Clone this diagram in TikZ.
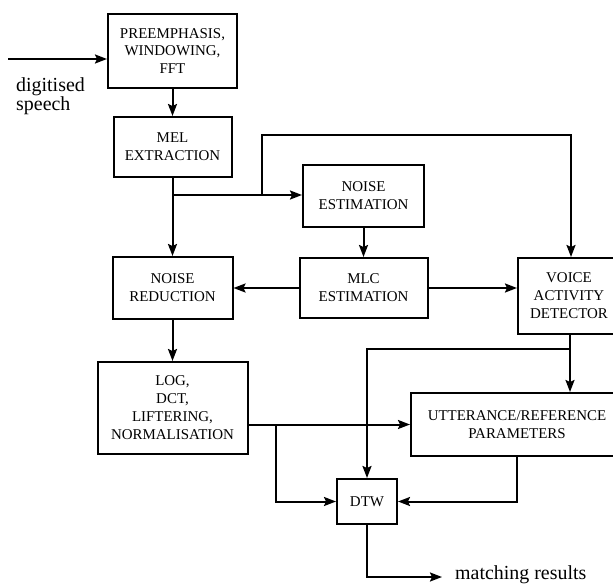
\documentclass[tikz,border=0pt]{standalone}
\usepackage{fontspec}
\setmainfont{Liberation Serif}
\usetikzlibrary{arrows.meta,positioning,calc}
\tikzset{
    block/.style={
        rectangle,
        draw=black,
        line width=2bp,
        align=center,
        inner sep=0pt,
        font=\fontsize{15}{18}\selectfont,
    },
    lbl/.style={
        align=left,
        inner sep=0pt,
        font=\fontsize{20}{20}\selectfont,
    },
    every edge/.style={
        draw,
        -{Stealth[length=12bp,width=9bp,inset=2bp]},
        line width=2bp,
    },
    sig/.style={
        draw,
        -{Stealth[length=12bp,width=9bp,inset=2bp]},
        line width=2bp,
    },
}

\begin{document}
\begin{tikzpicture}[x=1bp,y=-1bp]
    \useasboundingbox (0,0) rectangle (613,588);
    \clip (0,0) rectangle (613,588);
    % blocks
    \node [block,minimum width=129bp,minimum height=74bp] at (172.5,51) (pre) {PREEMPHASIS,\\WINDOWING,\\FFT};
    \node [block,minimum width=118bp,minimum height=60bp] at (172.5,147) (mel) {MEL\\EXTRACTION};
    \node [block,minimum width=121bp,minimum height=62bp] at (363.5,196) (nest) {NOISE\\ESTIMATION};
    \node [block,minimum width=120bp,minimum height=62bp] at (172.5,288) (nred) {NOISE\\REDUCTION};
    \node [block,minimum width=128bp,minimum height=60bp] at (363.5,288) (mlc) {MLC\\ESTIMATION};
    \node [block,minimum width=102bp,minimum height=76bp] at (569,296) (vad) {VOICE\\ACTIVITY\\DETECTOR};
    \node [block,minimum width=150bp,minimum height=92bp] at (172.5,408) (log) {LOG,\\DCT,\\LIFTERING,\\NORMALISATION};
    \node [block,minimum width=212bp,minimum height=63bp] at (517,424.5) (utt) {UTTERANCE/REFERENCE\\PARAMETERS};
    \node [block,minimum width=60bp,minimum height=45bp] at (367,501.5) (dtw) {DTW};
    % labels
    \node [lbl,anchor=north west] at (16,77) (speech) {digitised\\speech};
    \node [lbl,anchor=base west] at (455,579) (res) {matching results};
    % free ends and junctions
    \coordinate (in) at (8,59);
    \coordinate (out) at (442,577);
    \coordinate (j1) at (262,195);
    \coordinate (top) at (571,135);
    \coordinate (j2) at (570,349);
    \coordinate (j3) at (276,424);
    % connectors
    \draw (in) edge (in -| pre.west);
    \draw (pre.south) edge (mel.north);
    \draw (mel.south) edge (nred.north);
    \draw (mel.south |- j1) edge (j1 -| nest.west);
    \draw [sig] (j1) |- (top) -- (top |- vad.north);
    \draw (nest.south) edge (mlc.north);
    \draw (mlc.west) edge (nred.east);
    \draw (mlc.east) edge (mlc.east -| vad.west);
    \draw (j2 |- vad.south) edge (j2 |- utt.north);
    \draw [sig] (j2) -| (dtw.north);
    \draw (nred.south) edge (log.north);
    \draw (log.east |- utt.west) edge (utt.west);
    \draw [sig] (j3) |- (dtw.west);
    \draw [sig] (utt.south) |- (dtw.east);
    \draw [sig] (dtw.south) |- (out);
\end{tikzpicture}
\end{document}
